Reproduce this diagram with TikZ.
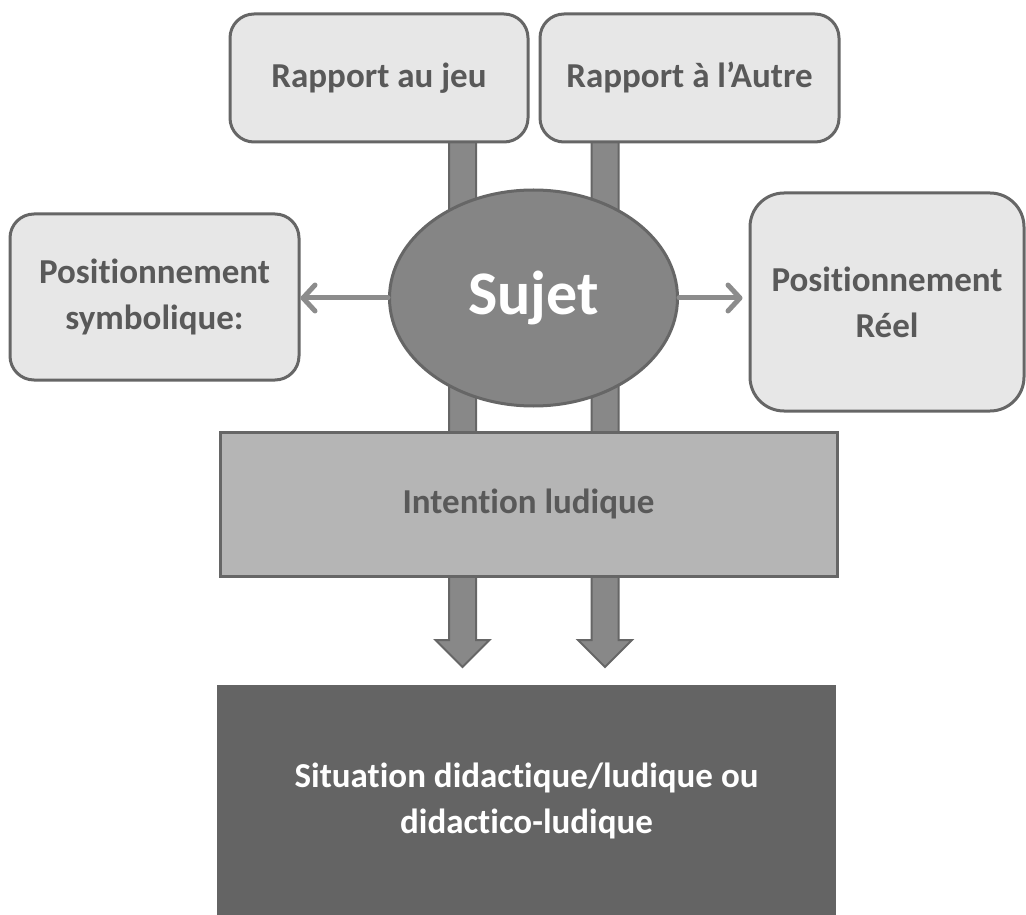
\documentclass[tikz,border=0pt]{standalone}
\usepackage{fontspec}
\setmainfont[RawFeature={-liga;-clig;-calt;-dlig}]{Carlito}
\usetikzlibrary{shapes,positioning,arrows.meta}
\definecolor{boxgray}{HTML}{E7E7E7}
\definecolor{edgegray}{HTML}{666666}
\definecolor{txtgray}{HTML}{595959}
\definecolor{sujetgray}{HTML}{858585}
\definecolor{intgray}{HTML}{B5B5B5}
\definecolor{sitgray}{HTML}{646464}
\definecolor{bargray}{HTML}{888888}
\definecolor{arrowgray}{HTML}{8C8C8C}

\begin{document}
\begin{tikzpicture}[x=0.5pt,y=-0.5pt,
    font=\fontsize{17.5}{23}\selectfont\bfseries,
    text=txtgray,line width=1.5pt,
    softbox/.style={draw=edgegray,fill=boxgray,rounded corners=12pt,
        align=center,inner sep=0},
    bar/.style={draw=edgegray,fill=bargray,line width=1pt},
    sidearrow/.style={draw=arrowgray,line width=2.5pt,line cap=round,
        -{Straight Barb[length=6pt,width=13pt,round]}}]
\useasboundingbox (0,0) rectangle (1026,914);

% Thick arrows behind the blocks
\coordinate (topA) at (462.5,142);
\coordinate (tipA) at (462.5,667);
\coordinate (topB) at (605,142);
\coordinate (tipB) at (605,667);
\foreach \t/\b in {topA/tipA,topB/tipB}{
  \draw[bar] (\t) ++(-13.5,0) -- ++(0,498) -- ++(-13.5,0) -- (\b)
      -- ++(27,-27) -- ++(-13.5,0) -- ++(0,-498) -- cycle;
}

% Top blocks
\node[softbox,
    minimum width=149pt,
    minimum height=64pt
] (jeu) at (379,78) {Rapport au jeu};

\node[softbox,
    minimum width=149.5pt,
    minimum height=64pt,
    right=4.5pt of jeu
] (autre) {Rapport à l’Autre};

% Side blocks
\node[softbox,
    minimum width=144.5pt,
    minimum height=83pt
] (symb) at (154.5,297) {Positionnement\\symbolique:};

\node[softbox,
    rounded corners=17pt,
    minimum width=137pt,
    minimum height=109pt
] (reel) at (887,302) {Positionnement\\Réel};

% Subject
\node[draw=edgegray,
    fill=sujetgray,
    ellipse,
    inner sep=0,
    minimum width=144pt,
    minimum height=108pt,
    text=white,
    font=\fontsize{31}{36}\selectfont\bfseries
] (sujet) at (533.5,298) {\raisebox{-2pt}{Sujet}};

% Intention block
\node[draw=edgegray,
    fill=intgray,
    inner sep=0,
    minimum width=308.5pt,
    minimum height=72pt
] (intention) at (528.5,504) {Intention ludique};

% Situation block
\node[fill=sitgray,
    align=center,
    inner sep=0,
    minimum width=309.5pt,
    minimum height=116pt,
    text=white
] (situation) at (526.5,801) {Situation didactique/ludique ou\\didactico-ludique};

% Arrows
\draw[sidearrow] (sujet.west) -- (sujet.west -| symb.east);
\draw[sidearrow,shorten >=3pt] (sujet.east) -- (sujet.east -| reel.west);

\end{tikzpicture}
\end{document}
